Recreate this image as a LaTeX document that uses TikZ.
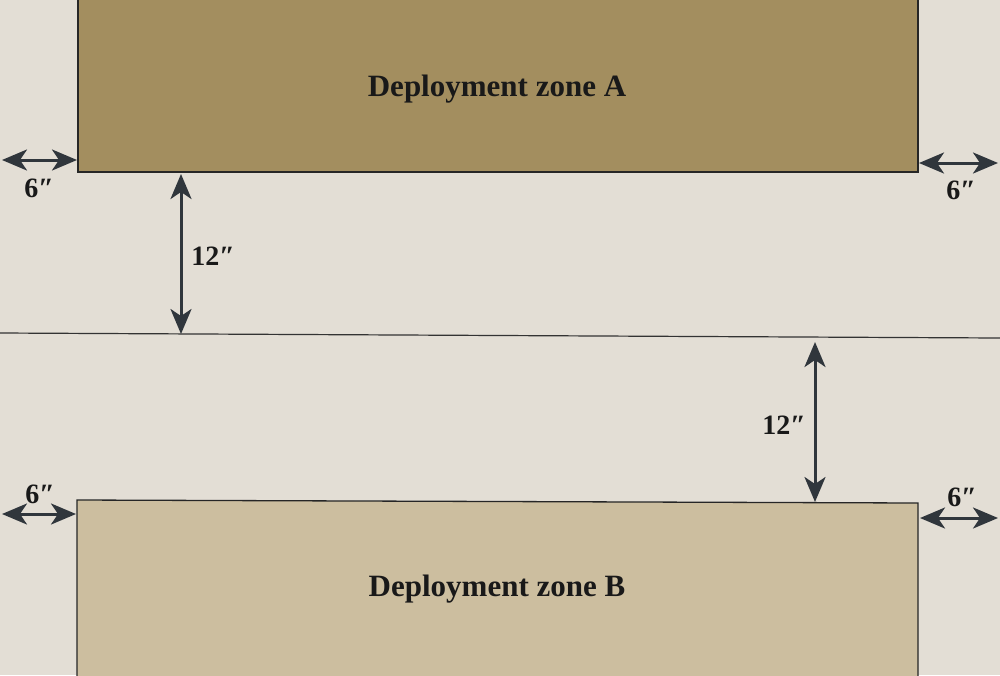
\documentclass[tikz,border=0pt]{standalone}
\usepackage{fontspec}
\setmainfont{Liberation Serif}
\usetikzlibrary{arrows.meta}
\definecolor{bg}{HTML}{E3DED5}
\definecolor{zoneA}{HTML}{A38E5F}
\definecolor{zoneB}{HTML}{CCBE9F}
\definecolor{arrowc}{HTML}{30363C}
\tikzset{
  zonebox/.style={draw=black!85, line width=1.3pt},
  measure/.style={draw=arrowc, line width=3pt, {Stealth[length=25pt,width=21pt,inset=7pt]}-{Stealth[length=25pt,width=21pt,inset=7pt]}},
  lbl/.style={font=\bfseries\fontsize{28}{32}\selectfont, text=black!90, inner sep=0pt},
  zonelbl/.style={font=\bfseries\fontsize{31}{36}\selectfont, text=black!90, inner sep=0pt}
}
\begin{document}
\begin{tikzpicture}[x=1pt,y=-1pt]
\fill[bg] (0,0) rectangle (1000,675);
\useasboundingbox (0,0) rectangle (1000,675);
% zones
\path[fill=zoneA, zonebox] (78,-5) -- (78,172) -- (918,172) -- (918,-5);
\path[fill=zoneB, zonebox] (77,680) -- (77,500) -- (918,503) -- (918,680);
\node[zonelbl] (za) at (497,89) {Deployment zone A};
\node[zonelbl] (zb) at (497,589) {Deployment zone B};
% centre line
\coordinate (cl) at (0,333);
\coordinate (cr) at (1000,338);
\draw[black!80, line width=1.2pt] (cl) -- (cr);
% arrows
\coordinate (a1) at (2,160); \coordinate (a2) at (77,160);
\coordinate (b1) at (919,163); \coordinate (b2) at (998,163);
\coordinate (c1) at (181,174); \coordinate (c2) at (181,334);
\coordinate (d1) at (815,342); \coordinate (d2) at (815,502);
\coordinate (e1) at (2,514); \coordinate (e2) at (76,514);
\coordinate (f1) at (920,518); \coordinate (f2) at (998,518);
\draw[measure] (a1) -- (a2);
\draw[measure] (b1) -- (b2);
\draw[measure] (c1) -- (c2);
\draw[measure] (d1) -- (d2);
\draw[measure] (e1) -- (e2);
\draw[measure] (f1) -- (f2);
% labels
\node[lbl] (la) at (39,188) {6″};
\node[lbl] (lb) at (961,190) {6″};
\node[lbl] (lc) at (213,256) {12″};
\node[lbl] (ld) at (784,425) {12″};
\node[lbl] (le) at (40,494) {6″};
\node[lbl] (lf) at (962,497) {6″};
\end{tikzpicture}
\end{document}
